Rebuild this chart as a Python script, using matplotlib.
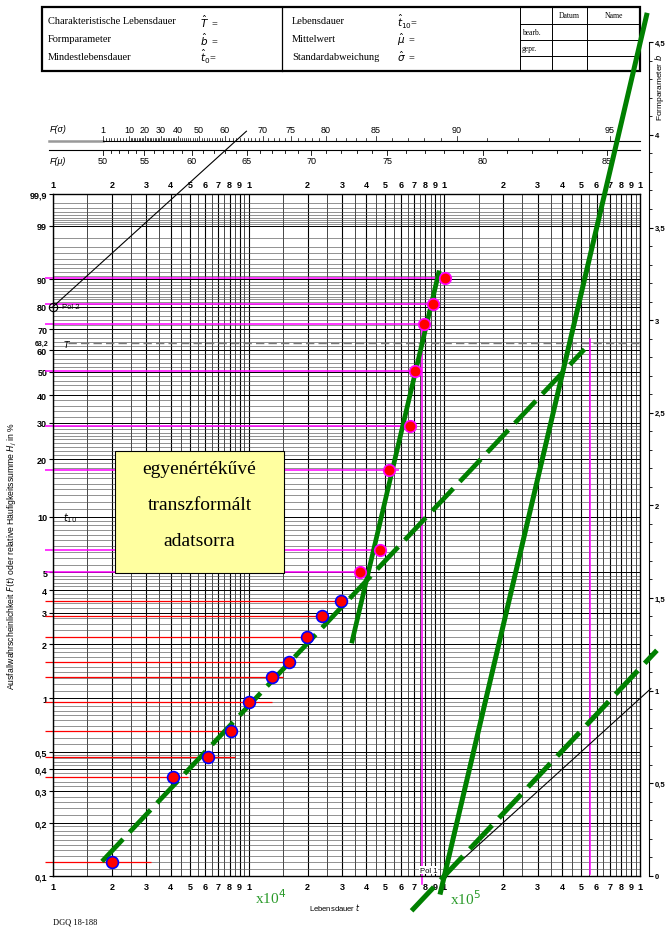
import numpy as np
import matplotlib
matplotlib.use("Agg")
import matplotlib.pyplot as plt
from matplotlib.patches import Rectangle
from matplotlib.lines import Line2D
from matplotlib.ticker import NullLocator

# lifetimes (hours) and cumulative failure frequency H_j in %
t_low = [2000, 4100, 6200, 8100, 10000, 13100, 16100, 19900, 23700, 29600]
F_low = [0.12, 0.36, 0.47, 0.65, 0.95, 1.31, 1.60, 2.19, 2.87, 3.48]
t_up = [37200, 46900, 52100, 66700, 70500, 78900, 87500, 100700]
F_up = [5.05, 6.66, 17.6, 29.1, 50.3, 72.3, 81.2, 90.3]

# where the reading lines from the F axis stop
line_start = 910
end_low = [3150, 4900, 8500, 8000, 13200, 14900, 16300, 20600, 24000, 31700]
end_up = [35600, 51000, 58800, 64200, 68100, 75100, 84400, 95000]

# hand drawn weibull lines: shape b, characteristic life T
b_low, T_low = 1.17, 5.55e5
b_up, T_up = 4.69, 7.7e4
range_low = (1780, 5.2e5)
range_up = (33600, 94200)
pol1 = (1e5, 0.1)
pol2 = (1e3, 80.0)
range_par_up = (9.5e4, 1.088e6)
range_par_low = (6.8e4, 1.22e6)
range_ref1 = (1e5, 1.137e6)
range_ref2 = (1e3, 9740)
# magenta verticals at T: (t, F top, F bottom)
vert_T = [(T_up, 72.3, 0.09), (T_low, 65.3, 0.103)]

F_ticks = [0.1, 0.2, 0.3, 0.4, 0.5, 1, 2, 3, 4, 5, 10, 20, 30, 40, 50, 60, 70, 80, 90, 99, 99.9]
b_ticks = [0, 0.5, 1, 1.5, 2, 2.5, 3, 3.5, 4, 4.5]

# nomogram scales on top: value -> position on the time axis
fsig_val = [1, 10, 20, 30, 40, 50, 60, 70, 75, 80, 85, 90, 95]
fsig_t = [1795, 2443, 2951, 3565, 4335, 5570, 7568, 11790, 16390, 24830, 44670, 115900, 701500]
fmu_val = [50, 55, 60, 65, 70, 75, 80, 85]
fmu_t = [1795, 2928, 5113, 9768, 20840, 50950, 156700, 677600]


def weib(F):
    return np.log(-np.log(1 - np.asarray(F, dtype=float) / 100))


def wline(b, T, rng):
    t = np.array(rng, dtype=float)
    return t, b * np.log(t / T)


def pline(b, pol, rng):
    t = np.array(rng, dtype=float)
    return t, weib(pol[1]) + b * np.log(t / pol[0])


def comma(v):
    return f"{v:g}".replace(".", ",")


W, H = 665, 928
fig = plt.figure(figsize=(W / 100, H / 100), dpi=100)
plt.rcParams['mathtext.fontset'] = 'dejavusans'
SERIF = 'Liberation Serif'
SANS = 'Liberation Sans'
GREEN = '#008000'


def fx(x):
    return x / W


def fy(y):
    return 1 - y / H


AX_L, AX_R, AX_T, AX_B = 53, 640, 195.4, 877
ax = fig.add_axes([fx(AX_L), fy(AX_B), (AX_R - AX_L) / W, (AX_B - AX_T) / H])
ax.set_zorder(5)
ax.patch.set_alpha(0)
ax.set_xscale('log')


def frac(py):
    return (AX_B - py) / (AX_B - AX_T)


# grid
for d in (3, 4, 5):
    for k in np.arange(1, 10, 0.5):
        ax.axvline(k * 10 ** d, color='black', lw=0.8 if k == int(k) else 0.5, zorder=1)
grid_F = np.concatenate([np.arange(0.1, 0.2, 0.01), np.arange(0.2, 0.5, 0.02),
                         np.arange(0.5, 1, 0.05), np.arange(1, 2, 0.1),
                         np.arange(2, 5, 0.2), np.arange(5, 10, 0.5),
                         np.arange(10, 30, 1), np.arange(30, 80, 2),
                         np.arange(80, 99, 1), np.arange(99, 99.9, 0.1)])
for F in grid_F:
    ax.axhline(weib(F), color='#555555', lw=0.45, zorder=1)
for F in F_ticks:
    ax.axhline(weib(F), color='black', lw=0.7, zorder=1)
ax.plot([1200, 1e6], [0, 0], color='#777777', lw=1.0, dashes=(6, 3), zorder=1.5)

# reading lines
ax.hlines(weib(F_low), line_start, end_low, color='#ff0000', lw=0.9, zorder=2, clip_on=False)
ax.hlines(weib(F_up), line_start, end_up, color='#ff00ff', lw=1.1, zorder=2, clip_on=False)
for t, ftop, fbot in vert_T:
    ax.plot([t, t], weib([ftop, fbot]), color='#ff00ff', lw=1.1, zorder=2, clip_on=False)

# thin reference lines (b = 1) from the poles
for rng, pol in ((range_ref1, pol1), (range_ref2, pol2)):
    t, w = pline(1.0, pol, rng)
    ax.plot(t, w, color='black', lw=0.8, zorder=2.5, clip_on=False)

# green fit lines
t, w = wline(b_low, T_low, range_low)
ax.plot(t, w, color=GREEN, lw=3.4, dashes=(6.5, 2), zorder=4, clip_on=False)
t, w = wline(b_up, T_up, range_up)
ax.plot(t, w, color=GREEN, lw=3.4, solid_capstyle='butt', zorder=4, clip_on=False)
t, w = pline(b_up, pol1, range_par_up)
ax.plot(t, w, color=GREEN, lw=3.6, solid_capstyle='butt', zorder=4, clip_on=False)
t, w = pline(b_low, pol1, range_par_low)
ax.plot(t, w, color=GREEN, lw=3.6, dashes=(6.5, 2), zorder=4, clip_on=False)

# points
ax.plot(t_low, weib(F_low), 'o', ms=8.5, mfc='#ff0000', mec='#0000ff', mew=1.2, zorder=6)
ax.plot(t_up, weib(F_up), 'o', ms=8.3, mfc='#ff0000', mec='#ff00ff', mew=1.2, zorder=6)

# poles
ax.plot([pol2[0]], [weib(pol2[1])], 'o', ms=6, mfc='none', mec='black', mew=0.8, clip_on=False, zorder=6)
ax.plot([960, 1090], [weib(pol2[1])] * 2, color='black', lw=0.8, clip_on=False, zorder=6)
ax.text(1110, weib(pol2[1]), 'Pol 2', fontsize=5.5, family=SANS, va='center', zorder=6)
ax.plot([pol1[0]], [weib(pol1[1])], 'o', ms=3, mfc='white', mec='black', mew=0.6, clip_on=False, zorder=3)
ax.text(9.2e4, weib(0.108), 'Pol 1', fontsize=5.5, family=SANS, ha='right', va='center', zorder=3,
        bbox=dict(fc='white', ec='none', pad=0.4))
ax.text(1130, 0, '$T$', fontsize=6.5, va='center', zorder=6)
ax.text(1120, weib(10), '$t_{10}$', fontsize=7, va='center', zorder=6)

# axes ticks
xt = [k * 10 ** d for d in (3, 4, 5) for k in range(1, 10)] + [1e6]
xl = [str(k) for d in (3, 4, 5) for k in range(1, 10)] + ['1']
ax.set_xticks(xt, xl)
ax.xaxis.set_minor_locator(NullLocator())
ax.tick_params(axis='x', which='both', length=0, top=True, labeltop=True, pad=4.2)
ax.set_yticks(weib(F_ticks), [comma(v) for v in F_ticks])
ax.tick_params(axis='y', length=3, width=0.8, pad=1.2)
for lab in ax.get_xticklabels() + ax.get_yticklabels():
    lab.set_fontfamily(SANS)
    lab.set_fontsize(6.5)
    lab.set_fontweight('bold')
ax.text(-0.008, 0, '63,2', transform=ax.get_yaxis_transform(), fontsize=5, family=SANS,
        fontweight='bold', ha='right', va='center')
for s in ax.spines.values():
    s.set_linewidth(1.0)
ax.set_xlim(1e3, 1e6)
ax.set_ylim(weib(0.1), weib(99.9))

# nomogram scales F(sigma), F(mu)
trans = ax.get_xaxis_transform()
ax.plot([950, 1795], [frac(142.3)] * 2, color='#999999', lw=1.8, transform=trans, clip_on=False)
ax.plot([1795, 1e6], [frac(141.7)] * 2, color='black', lw=0.8, transform=trans, clip_on=False)
ax.plot([950, 1e6], [frac(150.7)] * 2, color='black', lw=0.8, transform=trans, clip_on=False)
lu = np.log10(fsig_t)
for v in range(1, 96):
    tp = 10 ** np.interp(v, fsig_val, lu)
    h = 5 if v in fsig_val else 2.5
    ax.plot([tp, tp], [frac(141.7), frac(141.7 - h)], color='black', lw=0.5, transform=trans, clip_on=False)
for v, tp in zip(fsig_val, fsig_t):
    ax.text(tp, frac(130.5), str(v), transform=trans, fontsize=6.5, family=SANS, ha='center', va='center')
lu = np.log10(fmu_t)
for v in range(50, 86):
    tp = 10 ** np.interp(v, fmu_val, lu)
    h = 5 if v in fmu_val else 3
    ax.plot([tp, tp], [frac(150.7), frac(150.7 + h)], color='black', lw=0.6, transform=trans, clip_on=False)
for v, tp in zip(fmu_val, fmu_t):
    ax.text(tp, frac(161.7), str(v), transform=trans, fontsize=6.5, family=SANS, ha='center', va='center')
fig.text(fx(50), fy(130), 'F(σ)', fontsize=6.5, family=SANS, style='italic', va='center')
fig.text(fx(50), fy(162), 'F(μ)', fontsize=6.5, family=SANS, style='italic', va='center')

# b scale on the right
axb = fig.add_axes([fx(600), fy(876.7), fx(649) - fx(600), (876.7 - 43.3) / H])
axb.set_zorder(1)
axb.patch.set_visible(False)
for s in ('left', 'top', 'bottom'):
    axb.spines[s].set_visible(False)
axb.spines['right'].set_linewidth(0.8)
axb.xaxis.set_visible(False)
axb.yaxis.tick_right()
axb.set_ylim(0, 4.5)
axb.set_yticks(b_ticks, [comma(v) for v in b_ticks])
axb.set_yticks(np.arange(0, 4.5, 0.1), minor=True)
axb.tick_params(axis='y', which='major', direction='out', length=3, width=0.8, pad=1)
axb.tick_params(axis='y', which='minor', direction='out', length=2.5, width=0.6)
for lab in axb.get_yticklabels():
    lab.set_fontfamily(SANS)
    lab.set_fontsize(5.5)
    lab.set_fontweight('bold')
fig.text(fx(659), fy(88), 'Formparameter $b$', rotation=90, fontsize=6, family=SANS,
         ha='center', va='center')

# header form
fig.add_artist(Rectangle((fx(42), fy(72)), (640 - 42) / W, 64 / H, transform=fig.transFigure,
                         fill=False, ec='black', lw=1.6, zorder=1))
for x in (282, 520, 552, 587):
    fig.add_artist(Line2D([fx(x)] * 2, [fy(8), fy(72)], color='black', lw=0.9 if x == 282 else 0.7, zorder=1))
for y in (24.5, 40.5, 56.5):
    fig.add_artist(Line2D([fx(520), fx(640)], [fy(y)] * 2, color='black', lw=0.7, zorder=1))
rows = [22, 40, 57]
left_txt = ['Charakteristische Lebensdauer', 'Formparameter', 'Mindestlebensdauer']
left_sym = [r'$\hat{T}$  =', r'$\hat{b}$  =', r'$\hat{t}_0$=']
mid_txt = ['Lebensdauer', 'Mittelwert', 'Standardabweichung']
mid_sym = [r'$\hat{t}_{10}$=', r'$\hat{\mu}$  =', r'$\hat{\sigma}$  =']
for y, a, b_, c, d in zip(rows, left_txt, left_sym, mid_txt, mid_sym):
    fig.text(fx(48), fy(y), a, fontsize=7.5, family=SERIF, va='center')
    fig.text(fx(200), fy(y), b_, fontsize=7.5, family=SERIF, va='center')
    fig.text(fx(292), fy(y), c, fontsize=7.5, family=SERIF, va='center')
    fig.text(fx(397), fy(y), d, fontsize=7.5, family=SERIF, va='center')
fig.text(fx(569.5), fy(16), 'Datum', fontsize=5.5, family=SERIF, ha='center', va='center')
fig.text(fx(613.5), fy(16), 'Name', fontsize=5.5, family=SERIF, ha='center', va='center')
fig.text(fx(522), fy(33), 'bearb.', fontsize=5.5, family=SERIF, va='center')
fig.text(fx(522), fy(49), 'gepr.', fontsize=5.5, family=SERIF, va='center')

# yellow note
fig.add_artist(Rectangle((fx(115), fy(574.3)), (284 - 115) / W, (574.3 - 451.7) / H,
                         transform=fig.transFigure, fc='#ffffa0', ec='black', lw=0.8, zorder=10))
for y, s in zip((470, 506, 541), ('egyenértékűvé', 'transzformált', 'adatsorra')):
    fig.text(fx(199.5), fy(y), s, fontsize=14, family=SERIF, ha='center', va='center', zorder=11)

# other labels
fig.text(fx(12), fy(556), 'Ausfallwahrscheinlichkeit $F(t)$ oder relative Häufigkeitssumme $H_j$ in %',
         rotation=90, fontsize=6.2, family=SANS, ha='center', va='center')
fig.text(fx(309), fy(908), 'Lebensdauer $t$', fontsize=5.5, family=SANS, va='center')
fig.text(fx(53), fy(923), 'DGQ 18-188', fontsize=6, family=SERIF, va='center')
fig.text(fx(255), fy(898), 'x10$^4$', fontsize=11, family=SERIF, color='#2a9a2a', va='center')
fig.text(fx(450), fy(899), 'x10$^5$', fontsize=11, family=SERIF, color='#2a9a2a', va='center')

fig.savefig('out.png', dpi=100)
